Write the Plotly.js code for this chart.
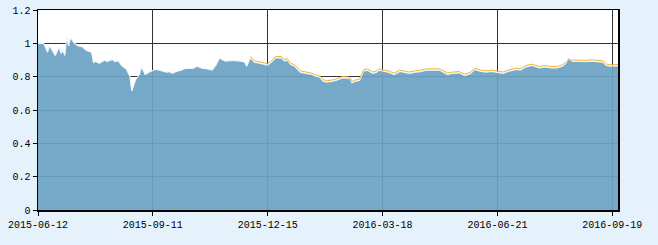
<!DOCTYPE html>
<html>
<head>
<meta charset="utf-8">
<script src="https://cdn.plot.ly/plotly-3.0.1.min.js"></script>
<style>html,body{margin:0;padding:0;background:#e6f2fb;}#chart{width:658px;height:245px;}</style>
</head>
<body>
<div id="chart"></div>
<script>
// trading-day index of each reading, and the value read there
const areaIdx = [0,3,5,6,9,10,11,12,13,14,15,16,17,19,21,23,25,27,28,29,30,32,35,36,39,40,42,44,46,48,49,51,53,54,56,58,61,63,67,69,70,72,74,75,77,81,83,86,88,89,91,93,95,96,98,101,103,106,108,109,111,113,115,118,120,122,124,127,129,130,132,134,136,137,140,143,145,147,149,151,154,156,159,162,163,164,166,168,170,172,175,177,178,181,183,186,189,191,194,197,199,203,207,210,214,216,220,223,226,228,231,234,237,240,243,246,250,252,255,258,262,265,268,271,274,276,277,279,283,286,289,291,295,297,299,303];
const areaVals = [1.0,1.0,0.947,0.987,0.927,0.95,0.98,0.94,0.96,0.927,1.04,0.985,1.035,1.0,0.985,0.98,0.96,0.95,0.945,0.883,0.893,0.88,0.9,0.89,0.904,0.89,0.895,0.863,0.847,0.803,0.713,0.783,0.813,0.859,0.813,0.827,0.843,0.84,0.827,0.83,0.82,0.83,0.835,0.84,0.85,0.85,0.863,0.85,0.848,0.845,0.84,0.87,0.915,0.903,0.893,0.897,0.897,0.893,0.887,0.863,0.913,0.887,0.883,0.877,0.87,0.887,0.913,0.913,0.893,0.903,0.873,0.863,0.839,0.827,0.82,0.813,0.803,0.799,0.773,0.767,0.773,0.779,0.793,0.787,0.789,0.763,0.773,0.777,0.833,0.839,0.82,0.827,0.839,0.831,0.827,0.813,0.831,0.827,0.82,0.827,0.829,0.839,0.839,0.839,0.813,0.819,0.823,0.807,0.819,0.843,0.833,0.827,0.831,0.827,0.82,0.833,0.843,0.839,0.859,0.867,0.853,0.859,0.853,0.853,0.863,0.883,0.913,0.893,0.89,0.89,0.893,0.891,0.887,0.867,0.863,0.865];

const lineIdx = [111,113,115,118,120,122,124,127,129,130,132,134,136,137,140,143,145,147,149,151,154,156,159,162,163,164,166,168,170,172,175,177,178,181,183,186,189,191,194,197,199,203,207,210,214,216,220,223,226,228,231,234,237,240,243,246,250,252,255,258,262,265,268,271,274,276,277,279,283,286,289,291,295,297,299,303];
const lineVals = [0.921,0.895,0.891,0.885,0.878,0.895,0.921,0.921,0.901,0.911,0.881,0.871,0.847,0.835,0.828,0.821,0.811,0.807,0.781,0.775,0.781,0.787,0.801,0.795,0.797,0.771,0.781,0.785,0.841,0.847,0.828,0.835,0.847,0.839,0.835,0.821,0.839,0.835,0.828,0.835,0.837,0.847,0.847,0.847,0.821,0.827,0.831,0.815,0.827,0.851,0.841,0.835,0.839,0.835,0.828,0.841,0.851,0.847,0.867,0.875,0.861,0.867,0.861,0.861,0.871,0.888,0.9,0.9,0.898,0.898,0.901,0.899,0.895,0.875,0.871,0.873];

const tickIdx = [0,60,120,180,240,300];
const tickLabels = ['2015-06-12','2015-09-11','2015-12-15','2016-03-18','2016-06-21','2016-09-19'];
const yTicks = [0,0.2,0.4,0.6,0.8,1,1.2];

const traces = [
  {x: areaIdx, y: areaVals, type: 'scatter', mode: 'lines', fill: 'tozeroy',
   fillcolor: 'rgba(106,162,195,0.93)', line: {color: 'rgba(240,248,253,0.95)', width: 1.2}, hoverinfo: 'skip'},
  {x: lineIdx, y: lineVals, type: 'scatter', mode: 'lines',
   line: {color: '#f5b335', width: 1}, hoverinfo: 'skip'}
];

const font = {family: '"Liberation Mono", "DejaVu Sans Mono", monospace', size: 10, color: '#000'};

const layout = {
  width: 658, height: 245,
  margin: {l: 38, r: 40, t: 10, b: 35, pad: 0},
  paper_bgcolor: '#e6f2fb', plot_bgcolor: '#ffffff',
  showlegend: false, hovermode: false, font: font,
  xaxis: {range: [0, 303], tickvals: tickIdx, ticktext: tickLabels,
    showgrid: true, gridcolor: '#333333', gridwidth: 1, zeroline: false,
    showline: true, linecolor: '#000', linewidth: 1.5, mirror: true,
    ticks: 'outside', ticklen: 4, tickcolor: '#000', tickfont: font},
  yaxis: {range: [0, 1.2], tickvals: yTicks,
    showgrid: true, gridcolor: '#333333', gridwidth: 1, zeroline: false,
    showline: true, linecolor: '#000', linewidth: 1.5, mirror: true,
    ticks: 'outside', ticklen: 4, tickcolor: '#000', tickfont: font}
};

Plotly.newPlot('chart', traces, layout, {displayModeBar: false, staticPlot: true});
</script>
</body>
</html>
